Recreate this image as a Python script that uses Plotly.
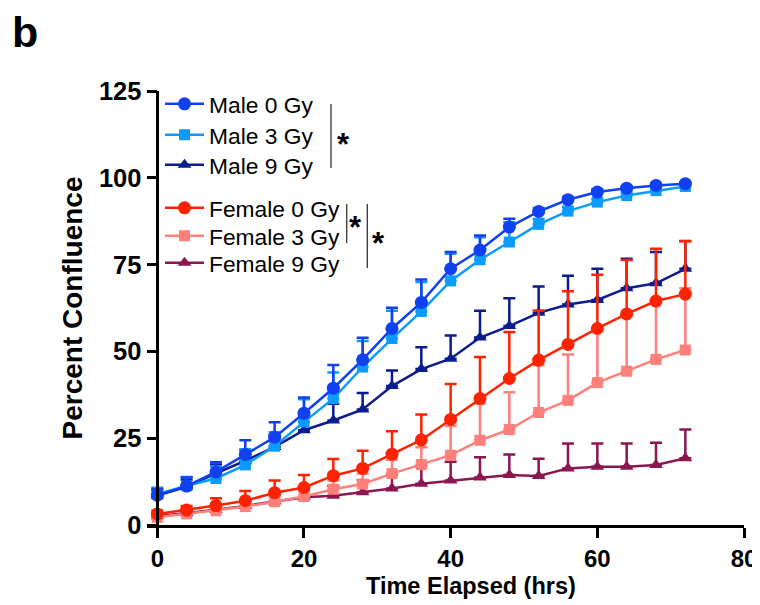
import plotly.graph_objects as go

# ---------------- data ----------------
time_hrs = [0, 4, 8, 12, 16, 20, 24, 28, 32, 36, 40, 44, 48, 52, 56, 60, 64, 68, 72]

male_0gy = [8.6, 11.2, 15.3, 20.3, 25.3, 32.2, 39.4, 47.6, 56.6, 64.1, 73.8, 79.2, 85.8, 90.3, 93.7, 95.9, 97.0, 97.8, 98.3]
male_0gy_err = [1.8, 2.5, 2.8, 4.1, 4.3, 4.5, 6.7, 6.3, 6.0, 6.6, 4.8, 4.2, 2.4, 1.0, 0.8, 0.8, 0.6, 0.5, 0.4]

male_3gy = [8.9, 11.3, 13.4, 17.3, 22.7, 29.7, 36.4, 45.5, 53.7, 61.5, 70.3, 76.4, 81.5, 86.6, 90.4, 93.0, 94.9, 96.3, 97.5]
male_3gy_err = [1.8, 2.5, 3.5, 4.5, 4.0, 6.5, 7.5, 7.5, 8.0, 8.5, 7.8, 6.5, 5.7, 1.5, 1.2, 1.0, 0.8, 0.6, 0.5]

male_9gy = [8.5, 11.0, 14.9, 18.5, 22.5, 27.3, 30.1, 33.3, 40.0, 44.9, 47.9, 54.0, 57.3, 61.1, 63.5, 64.8, 68.2, 69.6, 73.8]
male_9gy_err = [1.5, 2.0, 2.5, 3.0, 3.5, 4.5, 4.8, 4.7, 4.5, 6.3, 6.7, 7.7, 8.0, 7.6, 8.3, 9.0, 8.5, 9.0, 8.0]

female_0gy = [3.2, 4.3, 5.6, 7.0, 9.3, 10.8, 14.2, 16.3, 20.4, 24.5, 30.4, 36.4, 42.2, 47.5, 52.0, 56.6, 60.8, 64.5, 66.5]
female_0gy_err = [1.0, 1.2, 2.1, 2.8, 3.5, 3.6, 4.8, 5.1, 6.6, 7.3, 10.2, 12.0, 13.4, 14.3, 15.3, 15.5, 15.5, 15.1, 15.2]

female_3gy = [2.2, 3.2, 4.1, 5.3, 6.7, 8.2, 10.3, 11.8, 14.8, 17.4, 20.1, 24.4, 27.5, 32.4, 35.9, 41.0, 44.3, 47.7, 50.4]
female_3gy_err = [0.6, 0.8, 1.0, 1.2, 1.5, 1.8, 2.5, 3.0, 4.0, 5.0, 8.4, 10.6, 10.7, 13.6, 13.2, 15.0, 16.0, 17.0, 17.8]

female_9gy = [2.5, 3.4, 4.4, 5.5, 6.8, 8.0, 8.4, 9.4, 10.5, 11.9, 12.8, 13.7, 14.4, 14.1, 16.3, 16.8, 16.8, 17.3, 19.2]
female_9gy_err = [0.8, 1.0, 1.2, 1.5, 1.8, 2.2, 2.8, 3.5, 4.0, 5.0, 5.4, 5.8, 5.9, 5.0, 7.2, 6.7, 6.7, 6.4, 8.3]

x_ticks = [0, 20, 40, 60, 80]
y_ticks = [0, 25, 50, 75, 100, 125]

# ---------------- geometry (page has an 8px body margin) ----------------
OFF = 8
W, H = 760 - OFF, 605 - OFF
pl, pr, pt, pb = 147 - OFF, 16, 91 - OFF, 605 - 525
pw, ph = W - pl - pr, H - pt - pb


def px2paper(x, y):
    """Convert a target screenshot pixel into paper coordinates."""
    return (x - OFF - pl) / pw, (H - pb - (y - OFF)) / ph


FONT = "Liberation Sans, Arial, Helvetica, sans-serif"
series = [
    # name, values, errors, color, symbol, size, legend id, legend centre y (screen px)
    ("Male 9 Gy", male_9gy, male_9gy_err, "#0B1C8E", "triangle-up", 12, "legend3", 165),
    ("Male 3 Gy", male_3gy, male_3gy_err, "#0A9BFF", "square", 11, "legend2", 135),
    ("Male 0 Gy", male_0gy, male_0gy_err, "#1040F2", "circle", 13, "legend", 104),
    ("Female 9 Gy", female_9gy, female_9gy_err, "#8C1650", "triangle-up", 12, "legend6", 263),
    ("Female 3 Gy", female_3gy, female_3gy_err, "#FF7F7A", "square", 11, "legend5", 236),
    ("Female 0 Gy", female_0gy, female_0gy_err, "#FF2200", "circle", 13, "legend4", 208),
]

fig = go.Figure()
legend_layouts = {}
for name, vals, errs, color, symbol, size, leg, ly in series:
    fig.add_trace(go.Scatter(
        x=time_hrs, y=vals, name=name, mode="lines+markers",
        line=dict(color=color, width=2.5),
        marker=dict(color=color, symbol=symbol, size=size),
        error_y=dict(type="data", array=errs, arrayminus=[0] * len(errs), symmetric=False,
                     color=color, thickness=2.5, width=6),
        cliponaxis=False, legend=leg,
    ))
    lx, lyp = px2paper(160, ly)
    legend_layouts[leg] = dict(
        x=lx, y=lyp, xanchor="left", yanchor="middle",
        bgcolor="rgba(0,0,0,0)", borderwidth=0, itemwidth=39,
        font=dict(family=FONT, size=22.8, color="#000"),
    )

y_axis_pos, _ = px2paper(157.3, 300)

fig.update_layout(
    width=W, height=H,
    margin=dict(l=pl, r=pr, t=pt, b=pb, autoexpand=False),
    paper_bgcolor="white", plot_bgcolor="white",
    font=dict(family=FONT, color="#000"),
    showlegend=True,
    xaxis=dict(
        range=[-1.405, 80], tickvals=x_ticks, showgrid=False, zeroline=False,
        showline=True, linecolor="#000", linewidth=2.5,
        ticks="outside", ticklen=10, tickwidth=2.5, tickcolor="#000",
        tickfont=dict(family=FONT, size=24, color="#000", weight="bold"),
    ),
    yaxis=dict(
        range=[0, 125], tickvals=y_ticks, showgrid=False, zeroline=False,
        showline=True, linecolor="#000", linewidth=2.5,
        ticks="outside", ticklen=10, tickwidth=2.5, tickcolor="#000",
        tickfont=dict(family=FONT, size=25.5, color="#000", weight="bold"),
        anchor="free", position=y_axis_pos,
    ),
    **legend_layouts,
)

annotations = [
    dict(text="<b>b</b>", x=25, y=32, font=dict(size=43)),
    dict(text="<b>Percent Confluence</b>", x=71.5, y=308, textangle=-90, font=dict(size=28)),
    dict(text="<b>Time Elapsed (hrs)</b>", x=471, y=586, font=dict(size=23.5)),
    dict(text="<b>*</b>", x=343, y=144, font=dict(size=31)),
    dict(text="<b>*</b>", x=355, y=227, font=dict(size=31)),
    dict(text="<b>*</b>", x=378.5, y=243, font=dict(size=31)),
]
for a in annotations:
    px, py = px2paper(a.pop("x"), a.pop("y"))
    f = a.pop("font")
    f.update(family=FONT, color="#000")
    fig.add_annotation(x=px, y=py, xref="paper", yref="paper", showarrow=False,
                       xanchor="center", yanchor="middle", font=f, **a)

brackets = [(331, 104, 168), (346.7, 204, 243), (367.3, 204, 268)]
for bx, y0, y1 in brackets:
    x_p, y0_p = px2paper(bx, y0)
    _, y1_p = px2paper(bx, y1)
    fig.add_shape(type="line", xref="paper", yref="paper", x0=x_p, x1=x_p, y0=y0_p, y1=y1_p,
                  line=dict(color="#333", width=1.3))

fig.write_html("out.html")
